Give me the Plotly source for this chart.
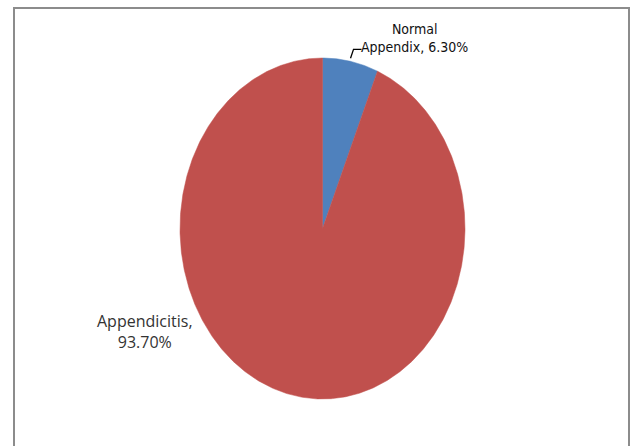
import numpy as np
import plotly.graph_objects as go

categories = ["Normal Appendix", "Appendicitis"]
values = [6.30, 93.70]
colors = ["#4F81BD", "#C0504D"]

W, H = 631, 446
cx, cy, rx, ry = 322.5, 228.5, 142.5, 170.5

fig = go.Figure()
total = sum(values)
start = 0.0
mids = []
for cat, v, c in zip(categories, values, colors):
    frac = v / total
    th = np.linspace(start, start + frac * 2 * np.pi, max(int(frac * 720), 4))
    xs = np.concatenate([[cx], cx + rx * np.sin(th), [cx]])
    ys = np.concatenate([[cy], cy - ry * np.cos(th), [cy]])
    fig.add_trace(go.Scatter(x=xs, y=ys, fill="toself", fillcolor=c, mode="lines",
                             line=dict(color=c, width=0.5), hoverinfo="text",
                             text=f"{cat}: {v:.2f}%", showlegend=False))
    mids.append(start + frac * np.pi)
    start += frac * 2 * np.pi

# leader line for small slice
m = mids[0]
lx, ly = cx + rx * np.sin(m), cy - ry * np.cos(m)
fig.add_trace(go.Scatter(x=[lx, lx + 3, lx + 11], y=[ly - 3, ly - 12, ly - 12], mode="lines",
                         line=dict(color="black", width=1.3), hoverinfo="skip", showlegend=False))

fig.add_annotation(x=414, y=38, text="Normal<br>Appendix, 6.30%", showarrow=False,
                   font=dict(family="DejaVu Sans Condensed, Open Sans", size=14, color="#111"),
                   align="center", xanchor="center", yanchor="middle")
fig.add_annotation(x=145, y=331, text="Appendicitis,<br>93.70%", showarrow=False,
                   font=dict(family="Open Sans", size=16, color="#333"),
                   align="center", xanchor="center", yanchor="middle")

fig.add_shape(type="rect", x0=14, x1=629, y0=8, y1=470, line=dict(color="#8c8c8c", width=2),
              fillcolor="rgba(0,0,0,0)")

fig.update_xaxes(range=[0, W], visible=False, fixedrange=True)
fig.update_yaxes(range=[H, 0], visible=False, fixedrange=True)
fig.update_layout(width=W, height=H, margin=dict(l=0, r=0, t=0, b=0),
                  paper_bgcolor="white", plot_bgcolor="white")
fig.write_html("out.html")
